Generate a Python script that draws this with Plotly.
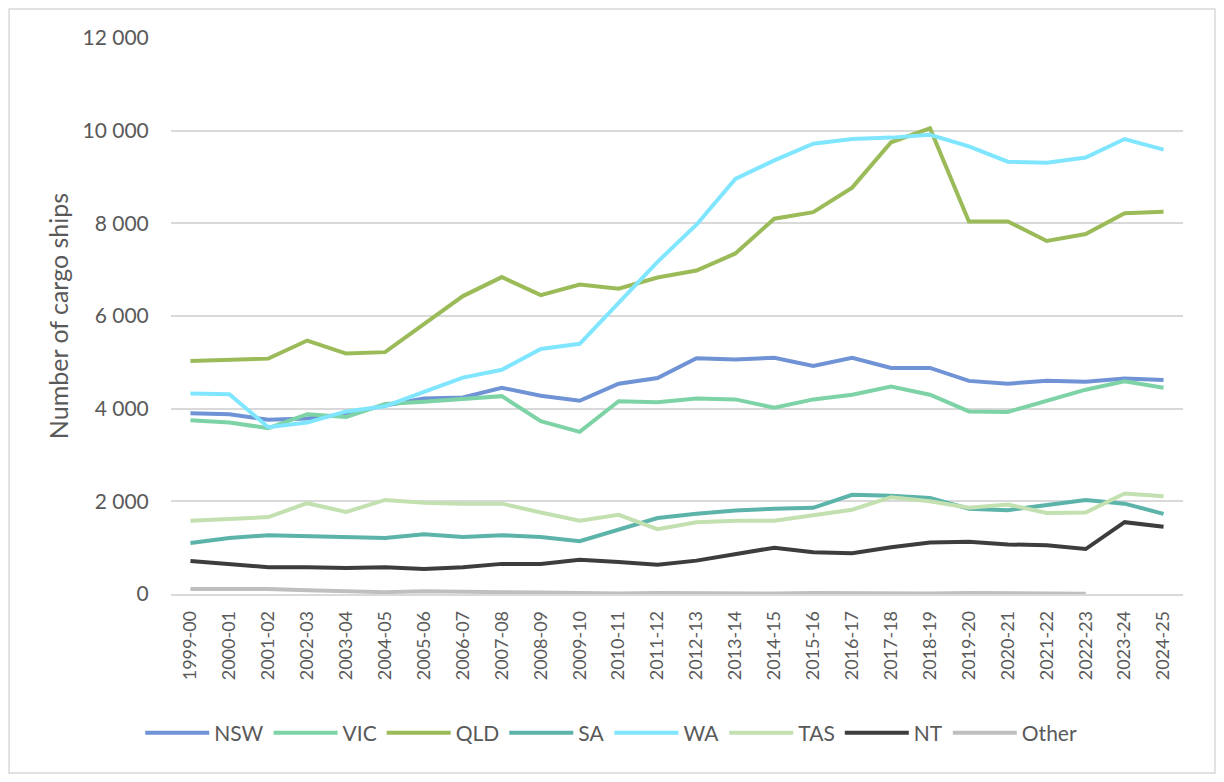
import plotly.graph_objects as go

# Financial years on the x axis
years = ["1999-00", "2000-01", "2001-02", "2002-03", "2003-04", "2004-05", "2005-06",
         "2006-07", "2007-08", "2008-09", "2009-10", "2010-11", "2011-12", "2012-13",
         "2013-14", "2014-15", "2015-16", "2016-17", "2017-18", "2018-19", "2019-20",
         "2020-21", "2021-22", "2022-23", "2023-24", "2024-25"]

# Number of cargo ships per state
nsw = [3900, 3880, 3760, 3790, 3880, 4070, 4220, 4240, 4450, 4280, 4170, 4540, 4660,
       5090, 5060, 5100, 4920, 5100, 4880, 4880, 4600, 4540, 4600, 4580, 4650, 4620]
vic = [3750, 3700, 3580, 3880, 3820, 4100, 4150, 4210, 4270, 3730, 3500, 4160, 4140,
       4220, 4200, 4020, 4200, 4300, 4480, 4300, 3940, 3930, 4160, 4410, 4590, 4450]
qld = [5030, 5050, 5080, 5470, 5190, 5220, 5820, 6430, 6840, 6450, 6680, 6590, 6830,
       6980, 7350, 8100, 8240, 8770, 9750, 10050, 8040, 8040, 7620, 7770, 8220, 8250]
sa = [1100, 1210, 1270, 1250, 1250, 1210, 1290, 1230, 1270, 1230, 1140, 1390, 1640,
      1730, 1800, 1840, 1860, 2140, 2120, 2070, 1840, 1810, 1930, 2030, 1950, 1730]
wa = [4330, 4310, 3600, 3700, 3940, 4050, 4360, 4670, 4840, 5290, 5400, 6270, 7170,
      7970, 8960, 9360, 9720, 9820, 9850, 9910, 9660, 9330, 9310, 9420, 9820, 9590]
tas = [1580, 1620, 1660, 1960, 1770, 2030, 1970, 1950, 1950, 1760, 1580, 1710, 1400,
       1550, 1580, 1580, 1700, 1820, 2090, 2000, 1860, 1930, 1750, 1760, 2170, 2110]
nt = [710, 650, 580, 580, 560, 580, 540, 580, 650, 650, 740, 690, 630,
      720, 870, 1000, 900, 880, 1010, 1110, 1130, 1070, 1050, 970, 1550, 1450]
other = [110, 110, 110, 80, 60, 40, 60, 40, 40, 35, 20, 10, 20,
         10, 10, 10, 20, 10, 20, 10, 20, 10, 10, 5, None, None]

series = [
    ("NSW", nsw, "#6f93d4"),
    ("VIC", vic, "#7dd3a6"),
    ("QLD", qld, "#9bbb59"),
    ("SA", sa, "#5bb3aa"),
    ("WA", wa, "#80e6ff"),
    ("TAS", tas, "#c3e0b0"),
    ("NT", nt, "#3d3d3d"),
    ("Other", other, "#bfbfbf"),
]

fig = go.Figure()
for name, vals, col in series:
    fig.add_trace(go.Scatter(x=years, y=vals, name=name, mode="lines",
                             line=dict(color=col, width=4)))

FONT = "Lato, 'Open Sans', sans-serif"
GREY = "#595959"

fig.update_layout(
    width=1208, height=766,
    margin=dict(l=163, r=33, t=30, b=180),
    paper_bgcolor="white", plot_bgcolor="white",
    separators=". ",
    font=dict(family=FONT, color=GREY, size=20),
    legend=dict(orientation="h", x=0.435, xanchor="center", y=-0.25, yanchor="middle",
                font=dict(size=21, color=GREY), itemwidth=64, tracegroupgap=0),
    xaxis=dict(type="category", range=[-0.5, len(years) - 0.5], tickangle=-90,
               tickfont=dict(size=18, color=GREY),
               showgrid=False, showline=True, linecolor="#d9d9d9", linewidth=1.5,
               ticks="outside", ticklen=8, tickcolor="white"),
    yaxis=dict(range=[0, 12000], dtick=2000, tickformat=",d",
               gridcolor="#d9d9d9", gridwidth=1.5, zeroline=False,
               tickfont=dict(size=21, color=GREY), ticks="outside", ticklen=17,
               tickcolor="white",
               title=dict(text="Number of cargo ships", font=dict(size=25, color=GREY),
                          standoff=6)),
)

# thin frame round the whole chart
fig.add_shape(type="rect", xref="paper", yref="paper",
              x0=-0.160, x1=1.0316, y0=-0.322, y1=1.052,
              line=dict(color="#d9d9d9", width=1.5))

fig.write_html("out.html")
